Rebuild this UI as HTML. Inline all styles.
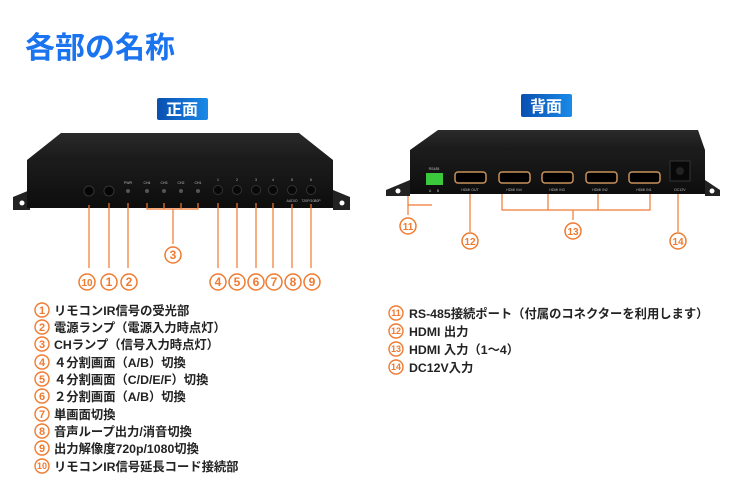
<!DOCTYPE html>
<html><head><meta charset="utf-8"><style>
body{margin:0;background:#fff;width:740px;height:480px;overflow:hidden}
svg{display:block}
.t{font-family:"Liberation Sans","Noto Sans CJK JP",sans-serif}
</style></head><body>
<svg width="740" height="480" viewBox="0 0 740 480" class="t">
<defs>
<linearGradient id="bl" x1="0" y1="0" x2="1" y2="0"><stop offset="0" stop-color="#0a4fb0"/><stop offset="1" stop-color="#1a8ae8"/></linearGradient>
<linearGradient id="top" x1="0" y1="0" x2="0" y2="1"><stop offset="0" stop-color="#2a2a2a"/><stop offset="1" stop-color="#1a1a1a"/></linearGradient>
<linearGradient id="fr" x1="0" y1="0" x2="0" y2="1"><stop offset="0" stop-color="#1c1c1c"/><stop offset="1" stop-color="#0d0d0d"/></linearGradient>
</defs>
<text x="25" y="58" font-size="30" font-weight="bold" fill="#1a73ef">各部の名称</text>
<rect x="157" y="98" width="51" height="22" rx="2" fill="url(#bl)"/>
<text x="182" y="115" font-size="16" font-weight="bold" fill="#fff" text-anchor="middle">正面</text>
<rect x="521" y="94" width="51" height="23" rx="2" fill="url(#bl)"/>
<text x="546" y="112" font-size="16" font-weight="bold" fill="#fff" text-anchor="middle">背面</text>

<path d="M13 197 L30 190 L30 210 L13 210 Z M350 197 L333 190 L333 210 L350 210 Z" fill="#222"/>
<circle cx="22" cy="203" r="2.5" fill="#fff"/><circle cx="342" cy="203" r="2.5" fill="#fff"/>
<polygon points="61,133 299,133 333,160 27,160" fill="url(#top)"/>
<rect x="27" y="160" width="306" height="48" fill="url(#fr)"/>
<circle cx="89" cy="191" r="5" fill="#050505" stroke="#333"/>
<circle cx="109" cy="191" r="5" fill="#050505" stroke="#333"/>
<g fill="#555"><circle cx="128" cy="191" r="2"/><circle cx="147" cy="191" r="2"/><circle cx="164" cy="191" r="2"/><circle cx="181" cy="191" r="2"/><circle cx="198" cy="191" r="2"/></g>
<g fill="#080808" stroke="#333"><circle cx="218" cy="190" r="4.5"/><circle cx="237" cy="190" r="4.5"/><circle cx="256" cy="190" r="4.5"/><circle cx="273" cy="190" r="4.5"/><circle cx="292" cy="190" r="4.5"/><circle cx="311" cy="190" r="4.5"/></g>
<g font-size="3.5" fill="#bbb" text-anchor="middle"><text x="128" y="184">PWR</text><text x="147" y="184">CH4</text><text x="164" y="184">CH3</text><text x="181" y="184">CH2</text><text x="198" y="184">CH1</text>
<text x="218" y="181">1</text><text x="237" y="181">2</text><text x="256" y="181">3</text><text x="273" y="181">4</text><text x="292" y="181">5</text><text x="311" y="181">6</text><text x="292" y="202">AUDIO</text><text x="311" y="202">720P/1080P</text></g>
<g stroke="#f07a30" stroke-width="1.2" fill="none">
<path d="M89 205V268M109 203V268M128 203V268M218 203V268M237 203V268M256 203V268M273 203V268M292 204V268M311 204V268"/>
<path d="M147 203V209H198V203M164 203V209M181 203V209M173 209V244"/>
<path d="M408 192V205H432M408 205V215M470 188V232M502 188V210H650V188M548 188V210M598 188V210M573 210V220M678 188V232"/>
</g>

<path d="M386 190 L410 180 L410 196 L386 196 Z M720 190 L705 180 L705 196 L720 196 Z" fill="#222"/>
<circle cx="398" cy="191" r="2.5" fill="#fff"/><circle cx="712" cy="191" r="2.5" fill="#fff"/>
<polygon points="438,130 698,130 705,150 410,150" fill="url(#top)"/>
<rect x="410" y="150" width="295" height="44" fill="url(#fr)"/>
<rect x="426" y="173" width="17" height="12" fill="#3cc83c"/>
<g fill="#000" stroke="#c9925a" stroke-width="1.5"><rect x="455" y="172" width="31" height="11" rx="3"/><rect x="499" y="172" width="31" height="11" rx="3"/><rect x="542" y="172" width="31" height="11" rx="3"/><rect x="586" y="172" width="31" height="11" rx="3"/><rect x="629" y="172" width="31" height="11" rx="3"/></g>
<rect x="670" y="161" width="20" height="20" fill="#080808" stroke="#333"/><circle cx="680" cy="171" r="4" fill="#222"/>
<g font-size="3.5" fill="#bbb" text-anchor="middle"><text x="434" y="170">RS485</text><text x="430" y="192">A</text><text x="438" y="192">B</text><text x="470" y="191">HDMI OUT</text><text x="514" y="191">HDMI IN4</text><text x="557" y="191">HDMI IN3</text><text x="600" y="191">HDMI IN2</text><text x="644" y="191">HDMI IN1</text><text x="680" y="191">DC12V</text></g>

<g fill="#fff" stroke="#f07a30" stroke-width="1.5">
<circle cx="87" cy="282" r="8"/><circle cx="109" cy="282" r="8"/><circle cx="129" cy="282" r="8"/><circle cx="173" cy="255" r="8"/>
<circle cx="218" cy="282" r="8"/><circle cx="237" cy="282" r="8"/><circle cx="256" cy="282" r="8"/><circle cx="274" cy="282" r="8"/><circle cx="293" cy="282" r="8"/><circle cx="312" cy="282" r="8"/>
<circle cx="408" cy="226" r="8"/><circle cx="470" cy="241" r="8"/><circle cx="573" cy="231" r="8"/><circle cx="678" cy="241" r="8"/>
</g>
<g fill="#f07a30" font-size="12" font-weight="bold" text-anchor="middle">
<text x="87" y="286" font-size="10">10</text><text x="109" y="286">1</text><text x="129" y="286">2</text><text x="173" y="259">3</text>
<text x="218" y="286">4</text><text x="237" y="286">5</text><text x="256" y="286">6</text><text x="274" y="286">7</text><text x="293" y="286">8</text><text x="312" y="286">9</text>
<text x="408" y="230" font-size="10">11</text><text x="470" y="245" font-size="10">12</text><text x="573" y="235" font-size="10">13</text><text x="678" y="245" font-size="10">14</text>
</g>

<g fill="#fff" stroke="#f07a30" stroke-width="1.4">
<circle cx="42" cy="310" r="7"/><circle cx="42" cy="327" r="7"/><circle cx="42" cy="344" r="7"/><circle cx="42" cy="362" r="7"/><circle cx="42" cy="379" r="7"/><circle cx="42" cy="396" r="7"/><circle cx="42" cy="414" r="7"/><circle cx="42" cy="431" r="7"/><circle cx="42" cy="448" r="7"/><circle cx="42" cy="466" r="7"/>
<circle cx="396" cy="313" r="7"/><circle cx="396" cy="331" r="7"/><circle cx="396" cy="349" r="7"/><circle cx="396" cy="367" r="7"/>
</g>
<g fill="#f07a30" font-size="11" font-weight="bold" text-anchor="middle">
<text x="42" y="314">1</text><text x="42" y="331">2</text><text x="42" y="348">3</text><text x="42" y="366">4</text><text x="42" y="383">5</text><text x="42" y="400">6</text><text x="42" y="418">7</text><text x="42" y="435">8</text><text x="42" y="452">9</text><text x="42" y="469" font-size="9">10</text>
<text x="396" y="316" font-size="9">11</text><text x="396" y="334" font-size="9">12</text><text x="396" y="352" font-size="9">13</text><text x="396" y="370" font-size="9">14</text>
</g>
<g fill="#222" font-size="12.3" font-weight="bold">
<text x="54" y="315">リモコンIR信号の受光部</text>
<text x="54" y="332">電源ランプ（電源入力時点灯）</text>
<text x="54" y="349">CHランプ（信号入力時点灯）</text>
<text x="54" y="367">４分割画面（A/B）切換</text>
<text x="54" y="384">４分割画面（C/D/E/F）切換</text>
<text x="54" y="401">２分割画面（A/B）切換</text>
<text x="54" y="419">単画面切換</text>
<text x="54" y="436">音声ループ出力/消音切換</text>
<text x="54" y="453">出力解像度720p/1080切換</text>
<text x="54" y="471">リモコンIR信号延長コード接続部</text>
<text x="409" y="318">RS-485接続ポート（付属のコネクターを利用します）</text>
<text x="409" y="336">HDMI 出力</text>
<text x="409" y="354">HDMI 入力（1～4）</text>
<text x="409" y="372">DC12V入力</text>
</g>
</svg>
</body></html>
